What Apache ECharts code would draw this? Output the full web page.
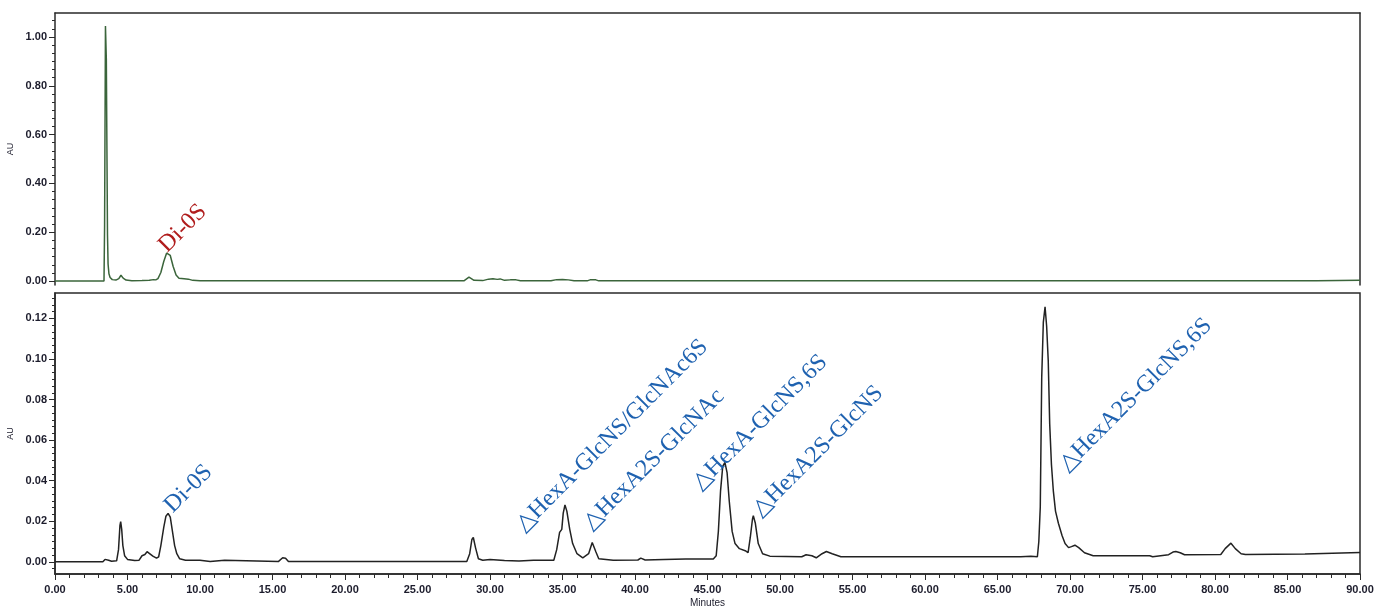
<!DOCTYPE html>
<html>
<head>
<meta charset="utf-8">
<script src="https://cdn.jsdelivr.net/npm/echarts@6/dist/echarts.min.js"></script>
<style>
html, body { margin: 0; padding: 0; background: #fff; }
#chart { width: 1374px; height: 608px; }
</style>
</head>
<body>
<div id="chart"></div>
<script>
// upper chromatogram (green), [minutes, AU]
const topTrace = [
    [0, 0], [3.38, 0], [3.42, 0.226], [3.46, 0.226], [3.48, 1.045], [3.52, 1.045], [3.54, 0.91], [3.6, 0.91],
    [3.62, 0.19], [3.66, 0.07], [3.72, 0.03], [3.8, 0.015], [3.95, 0.006], [4.2, 0.004], [4.4, 0.01],
    [4.55, 0.024], [4.7, 0.012], [4.9, 0.004], [5.3, 0.001], [6.0, 0.002], [6.5, 0.003], [6.8, 0.006],
    [6.95, 0.005], [7.1, 0.01], [7.3, 0.035], [7.5, 0.08], [7.7, 0.115], [7.8, 0.12], [7.95, 0.105],
    [8.15, 0.06], [8.35, 0.025], [8.55, 0.012], [8.9, 0.01], [9.2, 0.008], [9.5, 0.003], [10, 0.001],
    [20, 0.001], [28.2, 0.001], [28.55, 0.016], [28.9, 0.003], [29.5, 0.002], [29.9, 0.008], [30.2, 0.01],
    [30.5, 0.007], [30.7, 0.009], [31, 0.003], [31.4, 0.005], [31.8, 0.005], [32.1, 0.001], [34.2, 0.001],
    [34.6, 0.006], [35, 0.007], [35.4, 0.005], [35.8, 0.001], [36.7, 0.001], [36.9, 0.005], [37.3, 0.005],
    [37.5, 0.001], [60, 0.001], [87.0, 0.001], [87.1, 0.003], [90, 0.003]
];

// lower chromatogram (black), [minutes, AU]
const bottomTrace = [
    [0, 0], [3.3, 0], [3.45, 0.0012], [3.56, 0.0017], [3.7, 0.0008], [3.9, 0.0003], [4.25, 0.0005],
    [4.38, 0.006], [4.48, 0.018], [4.53, 0.0198], [4.6, 0.016], [4.68, 0.008], [4.8, 0.003], [5.0, 0.0012],
    [5.5, 0.0006], [5.8, 0.0008], [6.0, 0.003], [6.1, 0.0038], [6.2, 0.0036], [6.35, 0.005], [6.5, 0.0042],
    [6.75, 0.0028], [7.0, 0.0018], [7.15, 0.0025], [7.3, 0.008], [7.5, 0.017], [7.65, 0.0225], [7.8, 0.0239],
    [7.95, 0.022], [8.1, 0.015], [8.25, 0.008], [8.4, 0.004], [8.6, 0.0015], [9.0, 0.0008], [10.0, 0.0008],
    [10.05, 0.0002], [10.7, 0.0002], [10.75, 0.0008], [11.7, 0.0008], [11.75, 0.0001], [15.4, 0.0001],
    [15.7, 0.002], [15.9, 0.0018], [16.1, 0.0002], [20, 0.0001], [28.4, 0.0002], [28.6, 0.004], [28.75, 0.011],
    [28.85, 0.012], [29.0, 0.007], [29.2, 0.0015], [29.5, 0.0008], [30, 0.0012], [31, 0.0006], [32, 0.0004],
    [33, 0.0008], [34.4, 0.0008], [34.6, 0.006], [34.8, 0.0145], [34.95, 0.016], [35.05, 0.024], [35.17, 0.028],
    [35.3, 0.025], [35.5, 0.016], [35.7, 0.009], [36.0, 0.004], [36.4, 0.002], [36.8, 0.004], [37.05, 0.0095],
    [37.3, 0.005], [37.5, 0.0015], [38.5, 0.0008], [40.2, 0.0009], [40.4, 0.0018], [40.7, 0.0009], [42.0, 0.0012],
    [43.5, 0.0014], [43.6, 0.002], [43.8, 0.0014], [45.4, 0.0014], [45.6, 0.003], [45.75, 0.015], [45.9, 0.035],
    [46.05, 0.047], [46.2, 0.049], [46.35, 0.044], [46.5, 0.03], [46.7, 0.015], [46.9, 0.009], [47.2, 0.0065],
    [47.6, 0.0055], [47.8, 0.0045], [47.95, 0.012], [48.1, 0.021], [48.16, 0.0227], [48.3, 0.019], [48.5, 0.009],
    [48.8, 0.004], [49.3, 0.0028], [51.5, 0.0025], [51.8, 0.0035], [52.2, 0.003], [52.5, 0.002], [52.9, 0.004],
    [53.2, 0.0051], [53.6, 0.004], [54.2, 0.0025], [66.6, 0.0025], [66.7, 0.0027], [67.3, 0.0027], [67.4, 0.0025],
    [67.75, 0.0025], [67.85, 0.01], [67.95, 0.027], [68.05, 0.091], [68.16, 0.118], [68.28, 0.1257], [68.39, 0.116],
    [68.5, 0.099], [68.6, 0.068], [68.72, 0.048], [68.85, 0.035], [69.0, 0.025], [69.2, 0.019], [69.45, 0.013],
    [69.66, 0.009], [69.9, 0.007], [70.1, 0.0075], [70.34, 0.0082], [70.6, 0.007], [71.0, 0.0045], [71.6, 0.003],
    [75.5, 0.003], [75.6, 0.0035], [75.7, 0.0025], [75.8, 0.003], [76.8, 0.0035], [77.1, 0.0048], [77.3, 0.0051],
    [77.6, 0.0045], [77.9, 0.0035], [80.4, 0.0036], [80.7, 0.0065], [81.1, 0.0092], [81.4, 0.0065], [81.8, 0.004],
    [82.1, 0.0036], [86.2, 0.0038], [86.3, 0.0046], [90, 0.0046]
];

const topTicks = [0, 0.2, 0.4, 0.6, 0.8, 1.0];
const bottomTicks = [0, 0.02, 0.04, 0.06, 0.08, 0.1, 0.12];

// peak names, anchored at the lower left corner of the text box
const topPeakNames = ["Di-0S"];
const topPeakAnchors = [[8.0, 0.098]];
const bottomPeakNames = ["Di-0S", "△HexA-GlcNS/GlcNAc6S", "△HexA2S-GlcNAc", "△HexA-GlcNS,6S", "△HexA2S-GlcNS", "△HexA2S-GlcNS,6S"];
const bottomPeakAnchors = [[8.4, 0.0218], [32.62, 0.0125], [37.26, 0.0133], [44.8, 0.0331], [48.94, 0.0199], [70.09, 0.0422]];

function minorTicks(major, min, max) {
    const step = (major[1] - major[0]) / 6;
    const out = [];
    for (let v = major[0] - 6 * step; v <= max + 1e-9; v += step) {
        if (v >= min) out.push(+v.toFixed(6));
    }
    return out;
}

const axisColor = "#2a2a2a";
const labelFont = { fontFamily: "Liberation Sans", fontWeight: "bold", fontSize: 11, color: "#1c1c2c" };

function peakLabels(names, anchors, color) {
    return {
        symbol: "circle",
        symbolSize: 0,
        silent: true,
        label: {
            show: true,
            formatter: "{b}",
            position: "inside",
            align: "left",
            verticalAlign: "bottom",
            rotate: 45,
            fontFamily: "Liberation Serif, DejaVu Serif",
            fontSize: 24,
            color: color
        },
        data: names.map((n, i) => ({ name: n, coord: anchors[i] }))
    };
}

const chart = echarts.init(document.getElementById("chart"));
const option = {
    animation: false,
    grid: [
        { left: 55, right: 14, top: 13, height: 272, outerBoundsMode: "none" },
        { left: 55, right: 14, top: 293, bottom: 34, outerBoundsMode: "none", show: true, borderColor: axisColor, borderWidth: 1.5 }
    ],
    xAxis: [
        {
            gridIndex: 0, type: "value", position: "top", min: 0, max: 90,
            axisLine: { show: true, onZero: false, lineStyle: { color: axisColor, width: 1.5 } },
            axisTick: { show: false }, axisLabel: { show: false }, splitLine: { show: false }
        },
        {
            gridIndex: 1, type: "value", position: "bottom", min: 0, max: 90, interval: 5,
            name: "Minutes", nameLocation: "middle", nameGap: 24,
            nameTextStyle: { fontFamily: "Liberation Sans", fontSize: 10, color: "#1c1c2c" },
            axisLine: { show: true, onZero: false, lineStyle: { color: axisColor, width: 1.5 } },
            axisTick: { show: true, length: 6, lineStyle: { color: axisColor } },
            minorTick: { show: true, splitNumber: 5, length: 4, lineStyle: { color: axisColor } },
            axisLabel: Object.assign({ margin: 10, formatter: v => v.toFixed(2) }, labelFont),
            splitLine: { show: false }
        }
    ],
    yAxis: [
        {
            gridIndex: 0, type: "value", position: "left", min: -0.016, max: 1.098,
            name: "AU", nameLocation: "middle", nameGap: 35, nameRotate: 90,
            nameTextStyle: { fontFamily: "Liberation Sans", fontSize: 9, color: "#1c1c2c" },
            axisLine: { show: true, onZero: false, lineStyle: { color: axisColor, width: 1.5 } },
            axisTick: { show: true, length: 6, customValues: topTicks, lineStyle: { color: axisColor } },
            axisLabel: Object.assign({ margin: 8, customValues: topTicks, formatter: v => v.toFixed(2) }, labelFont),
            splitLine: { show: false }
        },
        {
            gridIndex: 0, type: "value", position: "left", min: -0.016, max: 1.098,
            axisLine: { show: false },
            axisTick: { show: true, length: 3, customValues: minorTicks(topTicks, -0.016, 1.098), lineStyle: { color: axisColor } },
            axisLabel: { show: false }, splitLine: { show: false }
        },
        {
            gridIndex: 0, type: "value", position: "right", min: 0, max: 1,
            axisLine: { show: true, onZero: false, lineStyle: { color: axisColor, width: 1.5 } },
            axisTick: { show: false }, axisLabel: { show: false }, splitLine: { show: false }
        },
        {
            gridIndex: 1, type: "value", position: "left", min: -0.006, max: 0.1325,
            name: "AU", nameLocation: "middle", nameGap: 35, nameRotate: 90,
            nameTextStyle: { fontFamily: "Liberation Sans", fontSize: 9, color: "#1c1c2c" },
            axisLine: { show: true, onZero: false, lineStyle: { color: axisColor, width: 1.5 } },
            axisTick: { show: true, length: 6, customValues: bottomTicks, lineStyle: { color: axisColor } },
            axisLabel: Object.assign({ margin: 8, customValues: bottomTicks, formatter: v => v.toFixed(2) }, labelFont),
            splitLine: { show: false }
        },
        {
            gridIndex: 1, type: "value", position: "left", min: -0.006, max: 0.1325,
            axisLine: { show: false },
            axisTick: { show: true, length: 3, customValues: minorTicks(bottomTicks, -0.006, 0.1325), lineStyle: { color: axisColor } },
            axisLabel: { show: false }, splitLine: { show: false }
        }
    ],
    series: [
        {
            type: "line", xAxisIndex: 0, yAxisIndex: 0, data: topTrace, symbol: "none",
            lineStyle: { color: "#3b653b", width: 1.5 },
            markPoint: peakLabels(topPeakNames, topPeakAnchors, "#b01c1c")
        },
        {
            type: "line", xAxisIndex: 1, yAxisIndex: 3, data: bottomTrace, symbol: "none",
            lineStyle: { color: "#222222", width: 1.5 },
            markPoint: peakLabels(bottomPeakNames, bottomPeakAnchors, "#1f62b0")
        }
    ]
};
chart.setOption(option);
</script>
</body>
</html>
